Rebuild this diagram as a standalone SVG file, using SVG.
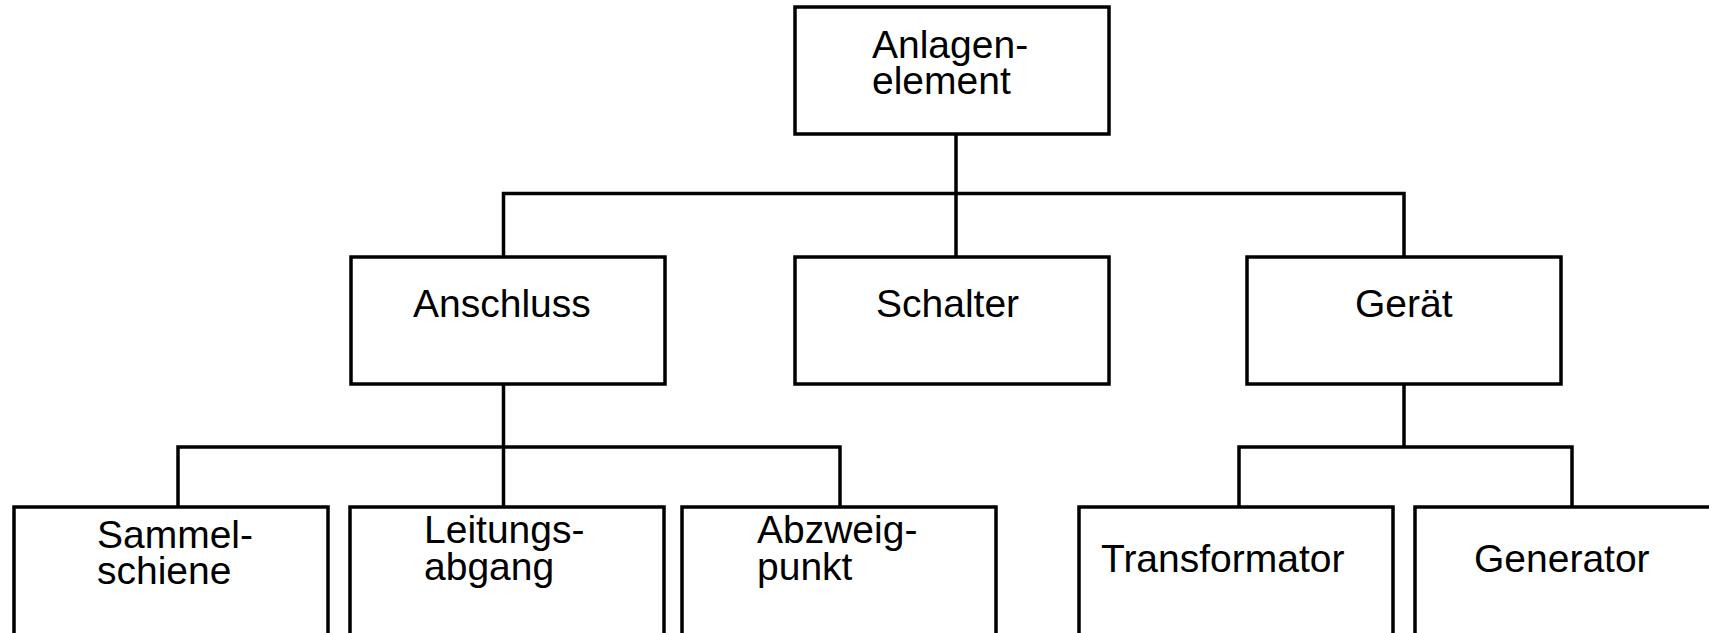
<svg xmlns="http://www.w3.org/2000/svg" width="1709" height="633" viewBox="0 0 1709 633">
  <style>
    .box { fill: #ffffff; stroke: #000000; stroke-width: 3.5; }
    .wire { fill: none; stroke: #000000; stroke-width: 3.5; stroke-linejoin: miter; }
    .lbl { font-family: "Liberation Sans", Arial, sans-serif; font-size: 39px; fill: #000000; }
  </style>
  <rect width="1709" height="633" fill="#ffffff"/>

  <!-- tree connectors -->
  <g id="connectors">
    <path class="wire" d="M956 134 V257"/>
    <path class="wire" d="M503.5 257 V193.5 H1404 V257"/>
    <path class="wire" d="M503.5 384 V507"/>
    <path class="wire" d="M178 507 V447 H840 V507"/>
    <path class="wire" d="M1404 384 V447"/>
    <path class="wire" d="M1239 507 V447 H1572 V507"/>
  </g>

  <!-- level 0 -->
  <g id="anlagenelement">
    <rect class="box" x="795" y="7" width="314" height="127"/>
    <text class="lbl" x="872" y="58">Anlagen-<tspan x="872" dy="36">element</tspan></text>
  </g>

  <!-- level 1 -->
  <g id="anschluss">
    <rect class="box" x="351" y="257" width="314" height="127"/>
    <text class="lbl" x="413" y="317">Anschluss</text>
  </g>
  <g id="schalter">
    <rect class="box" x="795" y="257" width="314" height="127"/>
    <text class="lbl" x="876" y="317">Schalter</text>
  </g>
  <g id="geraet">
    <rect class="box" x="1247" y="257" width="314" height="127"/>
    <text class="lbl" x="1355" y="317">Gerät</text>
  </g>

  <!-- level 2 -->
  <g id="sammelschiene">
    <rect class="box" x="14" y="507" width="314" height="140"/>
    <text class="lbl" x="97" y="548">Sammel-<tspan x="97" dy="36">schiene</tspan></text>
  </g>
  <g id="leitungsabgang">
    <rect class="box" x="350" y="507" width="314" height="140"/>
    <text class="lbl" x="424" y="543">Leitungs-<tspan x="424" dy="37">abgang</tspan></text>
  </g>
  <g id="abzweigpunkt">
    <rect class="box" x="682" y="507" width="314" height="140"/>
    <text class="lbl" x="757" y="543">Abzweig-<tspan x="757" dy="37">punkt</tspan></text>
  </g>
  <g id="transformator">
    <rect class="box" x="1079" y="507" width="314" height="140"/>
    <text class="lbl" x="1101" y="572">Transformator</text>
  </g>
  <g id="generator">
    <rect class="box" x="1415" y="507" width="314" height="140"/>
    <text class="lbl" x="1474" y="572">Generator</text>
  </g>
</svg>
